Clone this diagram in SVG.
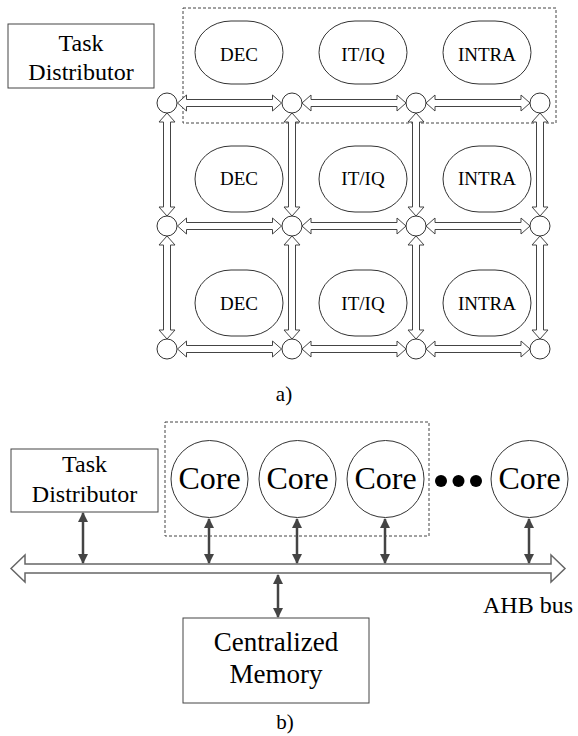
<svg xmlns="http://www.w3.org/2000/svg" xmlns:xlink="http://www.w3.org/1999/xlink" width="578" height="736" viewBox="0 0 578 736" font-family="'Liberation Serif', 'Times New Roman', 'DejaVu Serif', serif">
<style>
text{font-family:"Liberation Serif","Times New Roman","DejaVu Serif",serif;fill:#000;text-anchor:middle}
.box{fill:#fff;stroke:#444;stroke-width:1}
.oval{fill:#fff;stroke:#333;stroke-width:1}
.rt{fill:#fff;stroke:#333;stroke-width:1}
.dash{fill:none;stroke:#444;stroke-width:1;stroke-dasharray:3,2}
.hol{fill:#fff;stroke:#444;stroke-width:1;stroke-linejoin:miter}
.bus{fill:#fff;stroke:#666;stroke-width:1.5}
.sa{stroke:#444;stroke-width:2.5;fill:none;marker-start:url(#ah);marker-end:url(#ah)}
.t19{font-size:19px}
.t24{font-size:24px}
.t32{font-size:32px}
.t27{font-size:27px}
.t21{font-size:21px}
</style>
<defs>
<marker id="ah" viewBox="0 0 10 10" refX="9" refY="5" markerWidth="10" markerHeight="10" markerUnits="userSpaceOnUse" orient="auto-start-reverse">
<path d="M0,0 L10,5 L0,10 z" fill="#444"/>
</marker>
<polygon id="h" points="0,0 9,-8 9,-3.5 95,-3.5 95,-8 104,0 95,8 95,3.5 9,3.5 9,8"/>
<polygon id="v" points="0,0 8,9 3.5,9 3.5,94 8,94 0,103 -8,94 -3.5,94 -3.5,9 -8,9"/>
</defs>

<rect class="dash" x="183" y="8" width="373" height="115"/>

<g id="connectors">
<g class="hol">
<use xlink:href="#h" x="177.5" y="103"/>
<use xlink:href="#h" x="302" y="103"/>
<use xlink:href="#h" x="426" y="103"/>
<use xlink:href="#h" x="177.5" y="226"/>
<use xlink:href="#h" x="302" y="226"/>
<use xlink:href="#h" x="426" y="226"/>
<use xlink:href="#h" x="177.5" y="349"/>
<use xlink:href="#h" x="302" y="349"/>
<use xlink:href="#h" x="426" y="349"/>
<use xlink:href="#v" x="167" y="113"/>
<use xlink:href="#v" x="292" y="113"/>
<use xlink:href="#v" x="416" y="113"/>
<use xlink:href="#v" x="540" y="113"/>
<use xlink:href="#v" x="167" y="236"/>
<use xlink:href="#v" x="292" y="236"/>
<use xlink:href="#v" x="416" y="236"/>
<use xlink:href="#v" x="540" y="236"/>
</g>
<polygon class="bus" points="11,568.5 25,555 25,564 551,564 551,555 565,568.5 551,582 551,573 25,573 25,582"/>
<line class="sa" x1="83" y1="513" x2="83" y2="563"/>
<line class="sa" x1="209" y1="519" x2="209" y2="563"/>
<line class="sa" x1="297" y1="519" x2="297" y2="563"/>
<line class="sa" x1="385" y1="519" x2="385" y2="563"/>
<line class="sa" x1="529" y1="519" x2="529" y2="563"/>
<line class="sa" x1="278" y1="575" x2="278" y2="617"/>
</g>

<g id="routers" class="rt">
<circle cx="167" cy="103" r="10"/><circle cx="292" cy="103" r="10"/><circle cx="416" cy="103" r="10"/><circle cx="540" cy="103" r="10"/>
<circle cx="167" cy="226" r="10"/><circle cx="292" cy="226" r="10"/><circle cx="416" cy="226" r="10"/><circle cx="540" cy="226" r="10"/>
<circle cx="167" cy="349" r="10"/><circle cx="292" cy="349" r="10"/><circle cx="416" cy="349" r="10"/><circle cx="540" cy="349" r="10"/>
</g>

<g id="taskdist-a">
<rect class="box" x="8" y="24" width="146" height="64"/>
<text class="t24" x="81" y="51">Task</text>
<text class="t24" x="81" y="80">Distributor</text>
</g>

<g id="dec1"><rect class="oval" x="195" y="21" width="88" height="63" rx="36" ry="31.5"/><text class="t19" x="239" y="61">DEC</text></g>
<g id="itiq1"><rect class="oval" x="319" y="21" width="88" height="63" rx="36" ry="31.5"/><text class="t19" x="363" y="61">IT/IQ</text></g>
<g id="intra1"><rect class="oval" x="443" y="21" width="88" height="63" rx="36" ry="31.5"/><text class="t19" x="487" y="61">INTRA</text></g>
<g id="dec2"><rect class="oval" x="195" y="146" width="88" height="66" rx="36" ry="33"/><text class="t19" x="239" y="185">DEC</text></g>
<g id="itiq2"><rect class="oval" x="319" y="146" width="88" height="66" rx="36" ry="33"/><text class="t19" x="363" y="185">IT/IQ</text></g>
<g id="intra2"><rect class="oval" x="443" y="146" width="88" height="66" rx="36" ry="33"/><text class="t19" x="487" y="185">INTRA</text></g>
<g id="dec3"><rect class="oval" x="195" y="270" width="88" height="66" rx="36" ry="33"/><text class="t19" x="239" y="310">DEC</text></g>
<g id="itiq3"><rect class="oval" x="319" y="270" width="88" height="66" rx="36" ry="33"/><text class="t19" x="363" y="310">IT/IQ</text></g>
<g id="intra3"><rect class="oval" x="443" y="270" width="88" height="66" rx="36" ry="33"/><text class="t19" x="487" y="310">INTRA</text></g>

<text class="t21" x="284" y="401">a)</text>

<rect class="dash" x="165" y="422" width="264" height="114"/>

<g id="taskdist-b">
<rect class="box" x="11" y="449" width="147" height="63"/>
<text class="t24" x="84.5" y="472">Task</text>
<text class="t24" x="84.5" y="502">Distributor</text>
</g>

<g id="core1"><circle class="rt" cx="209.5" cy="479" r="38.5"/><text class="t32" x="209.5" y="489">Core</text></g>
<g id="core2"><circle class="rt" cx="297.5" cy="479" r="38.5"/><text class="t32" x="297.5" y="489">Core</text></g>
<g id="core3"><circle class="rt" cx="385.5" cy="479" r="38.5"/><text class="t32" x="385.5" y="489">Core</text></g>
<g id="core4"><circle class="rt" cx="529.5" cy="479" r="38.5"/><text class="t32" x="529.5" y="489">Core</text></g>

<g id="dots" fill="#000">
<circle cx="441" cy="481" r="6"/><circle cx="458.5" cy="481" r="6"/><circle cx="476" cy="481" r="6"/>
</g>

<g id="bus-label"><text class="t24" x="483" y="613" style="text-anchor:start">AHB bus</text></g>

<g id="memory">
<rect class="box" x="183" y="618" width="186" height="85"/>
<text class="t27" x="276" y="651">Centralized</text>
<text class="t27" x="276" y="683">Memory</text>
</g>

<text class="t21" x="285" y="729">b)</text>
</svg>
